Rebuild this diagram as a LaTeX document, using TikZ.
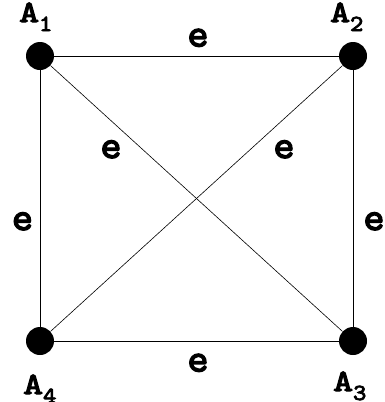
\documentclass[tikz,border=0pt]{standalone}
\usepackage{fontspec}
\newfontfamily\courb{lmmono10-regular}[Extension=.otf,FakeBold=3.5]
\newcommand{\albl}[1]{\scalebox{1.22}[1]{\fontsize{31}{31}\selectfont\courb A}\raisebox{-9pt}{\scalebox{1.1}[1]{\fontsize{23}{23}\selectfont\courb #1}}}
\begin{document}
\begin{tikzpicture}[x=1pt,y=-1pt,
  vtx/.style={circle,fill=black,minimum size=28pt,inner sep=0pt},
  edge/.style={draw=black,line width=0.6pt},
  elab/.style={font=\fontsize{40}{40}\selectfont\courb,inner sep=0pt,anchor=base},
  vlab/.style={inner sep=0pt,anchor=base west}]
\useasboundingbox (0,0) rectangle (385,402);
\node[vtx] (A1) at (40,56) {};
\node[vtx] (A2) at (353,56) {};
\node[vtx] (A3) at (353,341) {};
\node[vtx] (A4) at (40,341) {};
\draw[edge] (A1) -- (A2);
\draw[edge] (A2) -- (A3);
\draw[edge] (A3) -- (A4);
\draw[edge] (A4) -- (A1);
\draw[edge] (A1) -- (A3);
\draw[edge] (A2) -- (A4);
\node[vlab] (L1) at (19,22) {\albl{1}};
\node[vlab] (L2) at (330,22) {\albl{2}};
\node[vlab] (L3) at (333,391) {\albl{3}};
\node[vlab] (L4) at (23,394) {\albl{4}};
\node[elab] (e12) at (198,46.5) {e};
\node[elab] (e34) at (198,371.5) {e};
\node[elab] (e14) at (22.5,230) {e};
\node[elab] (e23) at (374,230) {e};
\node[elab] (e13) at (111,158) {e};
\node[elab] (e24) at (284,158) {e};
\end{tikzpicture}
\end{document}
